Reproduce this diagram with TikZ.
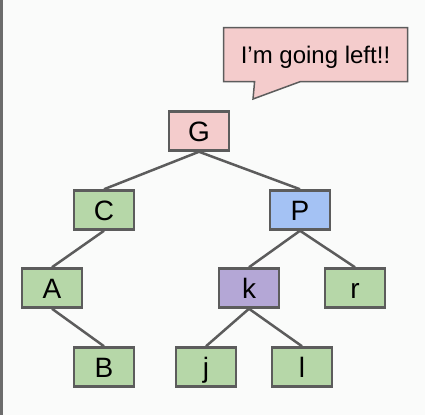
\documentclass[tikz,border=0pt]{standalone}
\usepackage{fontspec}
\setmainfont{Liberation Sans}
\usepackage{tikz}
\usetikzlibrary{shapes.callouts}
\definecolor{bgwhite}{RGB}{250,251,250}
\definecolor{edgegray}{RGB}{92,92,92}
\definecolor{nodepink}{RGB}{244,204,204}
\definecolor{nodegreen}{RGB}{182,215,168}
\definecolor{nodeblue}{RGB}{164,194,244}
\definecolor{nodepurple}{RGB}{180,167,214}

\begin{document}
\begin{tikzpicture}[x=1pt,y=-1pt,
  key/.style={draw=edgegray,line width=2.5pt,minimum width=60pt,minimum height=39pt,
    inner sep=0pt,font=\fontsize{28}{28}\selectfont,text height=20pt,text depth=0pt},
  link/.style={draw=edgegray,line width=2.5pt}]
% Page
\fill[bgwhite] (0,0) rectangle (425,415);
\useasboundingbox (0,0) rectangle (425,415);
\draw[edgegray!90,line width=3pt] (1.5,0) -- (1.5,415);

% Speech bubble
\node[rectangle callout,fill=nodepink,draw=edgegray,line width=1.5pt,
  minimum width=184pt,minimum height=54pt,callout pointer width=46pt,
  callout absolute pointer={(253,99)},font=\fontsize{24}{24}\selectfont,
  text height=17pt,text depth=0pt] (bubble) at (315.5,54.5) {I’m going left!!};

% Keys
\node[key,fill=nodepink] (G) at (199,131) {G};
\node[key,fill=nodegreen] (C) at (104,210) {C};
\node[key,fill=nodeblue] (P) at (300,210) {P};
\node[key,fill=nodegreen] (A) at (52,288) {A};
\node[key,fill=nodepurple] (k) at (249,288) {k};
\node[key,fill=nodegreen] (r) at (355,288) {r};
\node[key,fill=nodegreen] (B) at (104,367) {B};
\node[key,fill=nodegreen] (j) at (206,367) {j};
\node[key,fill=nodegreen] (l) at (302,367) {l};

% Links
\draw[link] (G.south) -- (C.north);
\draw[link] (G.south) -- (P.north);
\draw[link] (C.south) -- (A.north);
\draw[link] (A.south) -- (B.north);
\draw[link] (P.south) -- (k.north);
\draw[link] (P.south) -- (r.north);
\draw[link] (k.south) -- (j.north);
\draw[link] (k.south) -- (l.north);
\end{tikzpicture}
\end{document}
